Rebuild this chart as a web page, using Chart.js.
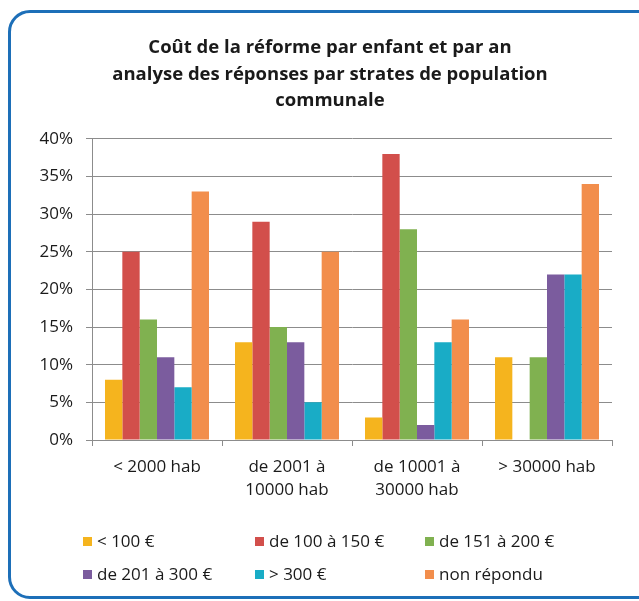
<!DOCTYPE html>
<html>
<head>
<meta charset="utf-8">
<script src="https://cdn.jsdelivr.net/npm/chart.js@4/dist/chart.umd.min.js"></script>
<style>
  html, body { margin: 0; padding: 0; background: #fff; overflow: hidden; }
  #wrap { position: relative; width: 639px; height: 601px; }
  #frame { position: absolute; left: 8px; top: 10px; width: 680px; height: 589px;
           border: 3px solid #1d6fb8; border-radius: 22px; box-sizing: border-box; }
  #c { position: absolute; left: 0; top: 0; }
  .lg { position: absolute; font-family: "Open Sans", sans-serif; font-size: 17px; color: #1a1a1a;
        white-space: nowrap; line-height: 20px; }
  .lg span.box { position: absolute; width: 9px; height: 9px; top: 6px; }
</style>
</head>
<body>
<div id="wrap">
  <div id="frame"></div>
  <canvas id="c" width="639" height="601"></canvas>
</div>
<script>
const titleLines = [
  "Coût de la réforme par enfant et par an",
  "analyse des réponses par strates de population",
  "communale"
];
const categories = [
  "< 2000 hab",
  ["de 2001 à", "10000 hab"],
  ["de 10001 à", "30000 hab"],
  "> 30000 hab"
];
const yTicks = [0, 5, 10, 15, 20, 25, 30, 35, 40];
const seriesNames = ["< 100 €", "de 100 à 150 €", "de 151 à 200 €", "de 201 à 300 €", "> 300 €", "non répondu"];
const seriesColors = ["#f5b41e", "#d24f4b", "#80b150", "#7b5c9e", "#19acc6", "#f28e4c"];
const under100 = [8, 13, 3, 11];
const from100to150 = [25, 29, 38, 0];
const from151to200 = [16, 15, 28, 11];
const from201to300 = [11, 13, 2, 22];
const over300 = [7, 5, 13, 22];
const noAnswer = [33, 25, 16, 34];
const seriesValues = [under100, from100to150, from151to200, from201to300, over300, noAnswer];

const FONT = "Open Sans";

const datasets = seriesNames.map((n, i) => ({
  label: n,
  data: seriesValues[i],
  backgroundColor: seriesColors[i],
  borderWidth: 0,
  categoryPercentage: 0.8,
  barPercentage: 1.0
}));

// shift the title block so it is centred like the reference
const titleShift = {
  id: 'titleShift',
  afterLayout(chart) {
    const t = chart.titleBlock;
    if (t) { t.left = 21; t.right = 639; t.width = 618; }
  }
};

const chart = new Chart(document.getElementById('c'), {
  type: 'bar',
  data: { labels: categories, datasets },
  plugins: [titleShift],
  options: {
    responsive: false,
    animation: false,
    devicePixelRatio: 1,
    layout: { padding: { left: 0, right: 27, top: 0, bottom: 101 } },
    plugins: {
      legend: { display: false },
      tooltip: { enabled: false },
      title: {
        display: true,
        text: titleLines,
        color: '#1a1a1a',
        font: { family: FONT, size: 18.5, weight: 'bold', lineHeight: 1.43 },
        padding: { top: 35, bottom: 24.5 }
      }
    },
    scales: {
      x: {
        grid: { offset: true, drawOnChartArea: false, drawTicks: true, tickLength: 6, color: '#8c8c8c', lineWidth: 1 },
        border: { color: '#8c8c8c', width: 1 },
        ticks: { color: '#1a1a1a', font: { family: FONT, size: 17, lineHeight: 1.35 }, padding: 10, maxRotation: 0, autoSkip: false },
        afterFit: s => { s.height = 60; }
      },
      y: {
        min: 0, max: 40,
        afterBuildTicks: s => { s.ticks = yTicks.map(v => ({ value: v })); },
        grid: { color: '#8c8c8c', lineWidth: 1, tickLength: 6, drawTicks: true },
        border: { color: '#8c8c8c', width: 1 },
        ticks: { color: '#1a1a1a', font: { family: FONT, size: 17 }, padding: 13, callback: v => v + '%' },
        afterFit: s => { s.width = 92; }
      }
    }
  }
});

// HTML legend built from the chart's datasets
const legendBox = [[83, 531], [255, 531], [425, 531], [83, 564], [255, 564], [425, 564]];
chart.data.datasets.forEach((ds, i) => {
  const d = document.createElement('div');
  d.className = 'lg';
  d.style.left = legendBox[i][0] + 'px';
  d.style.top = legendBox[i][1] + 'px';
  d.style.paddingLeft = '14px';
  const b = document.createElement('span');
  b.className = 'box';
  b.style.left = '0px';
  b.style.background = ds.backgroundColor;
  d.appendChild(b);
  d.appendChild(document.createTextNode(ds.label));
  document.getElementById('wrap').appendChild(d);
});
</script>
</body>
</html>
